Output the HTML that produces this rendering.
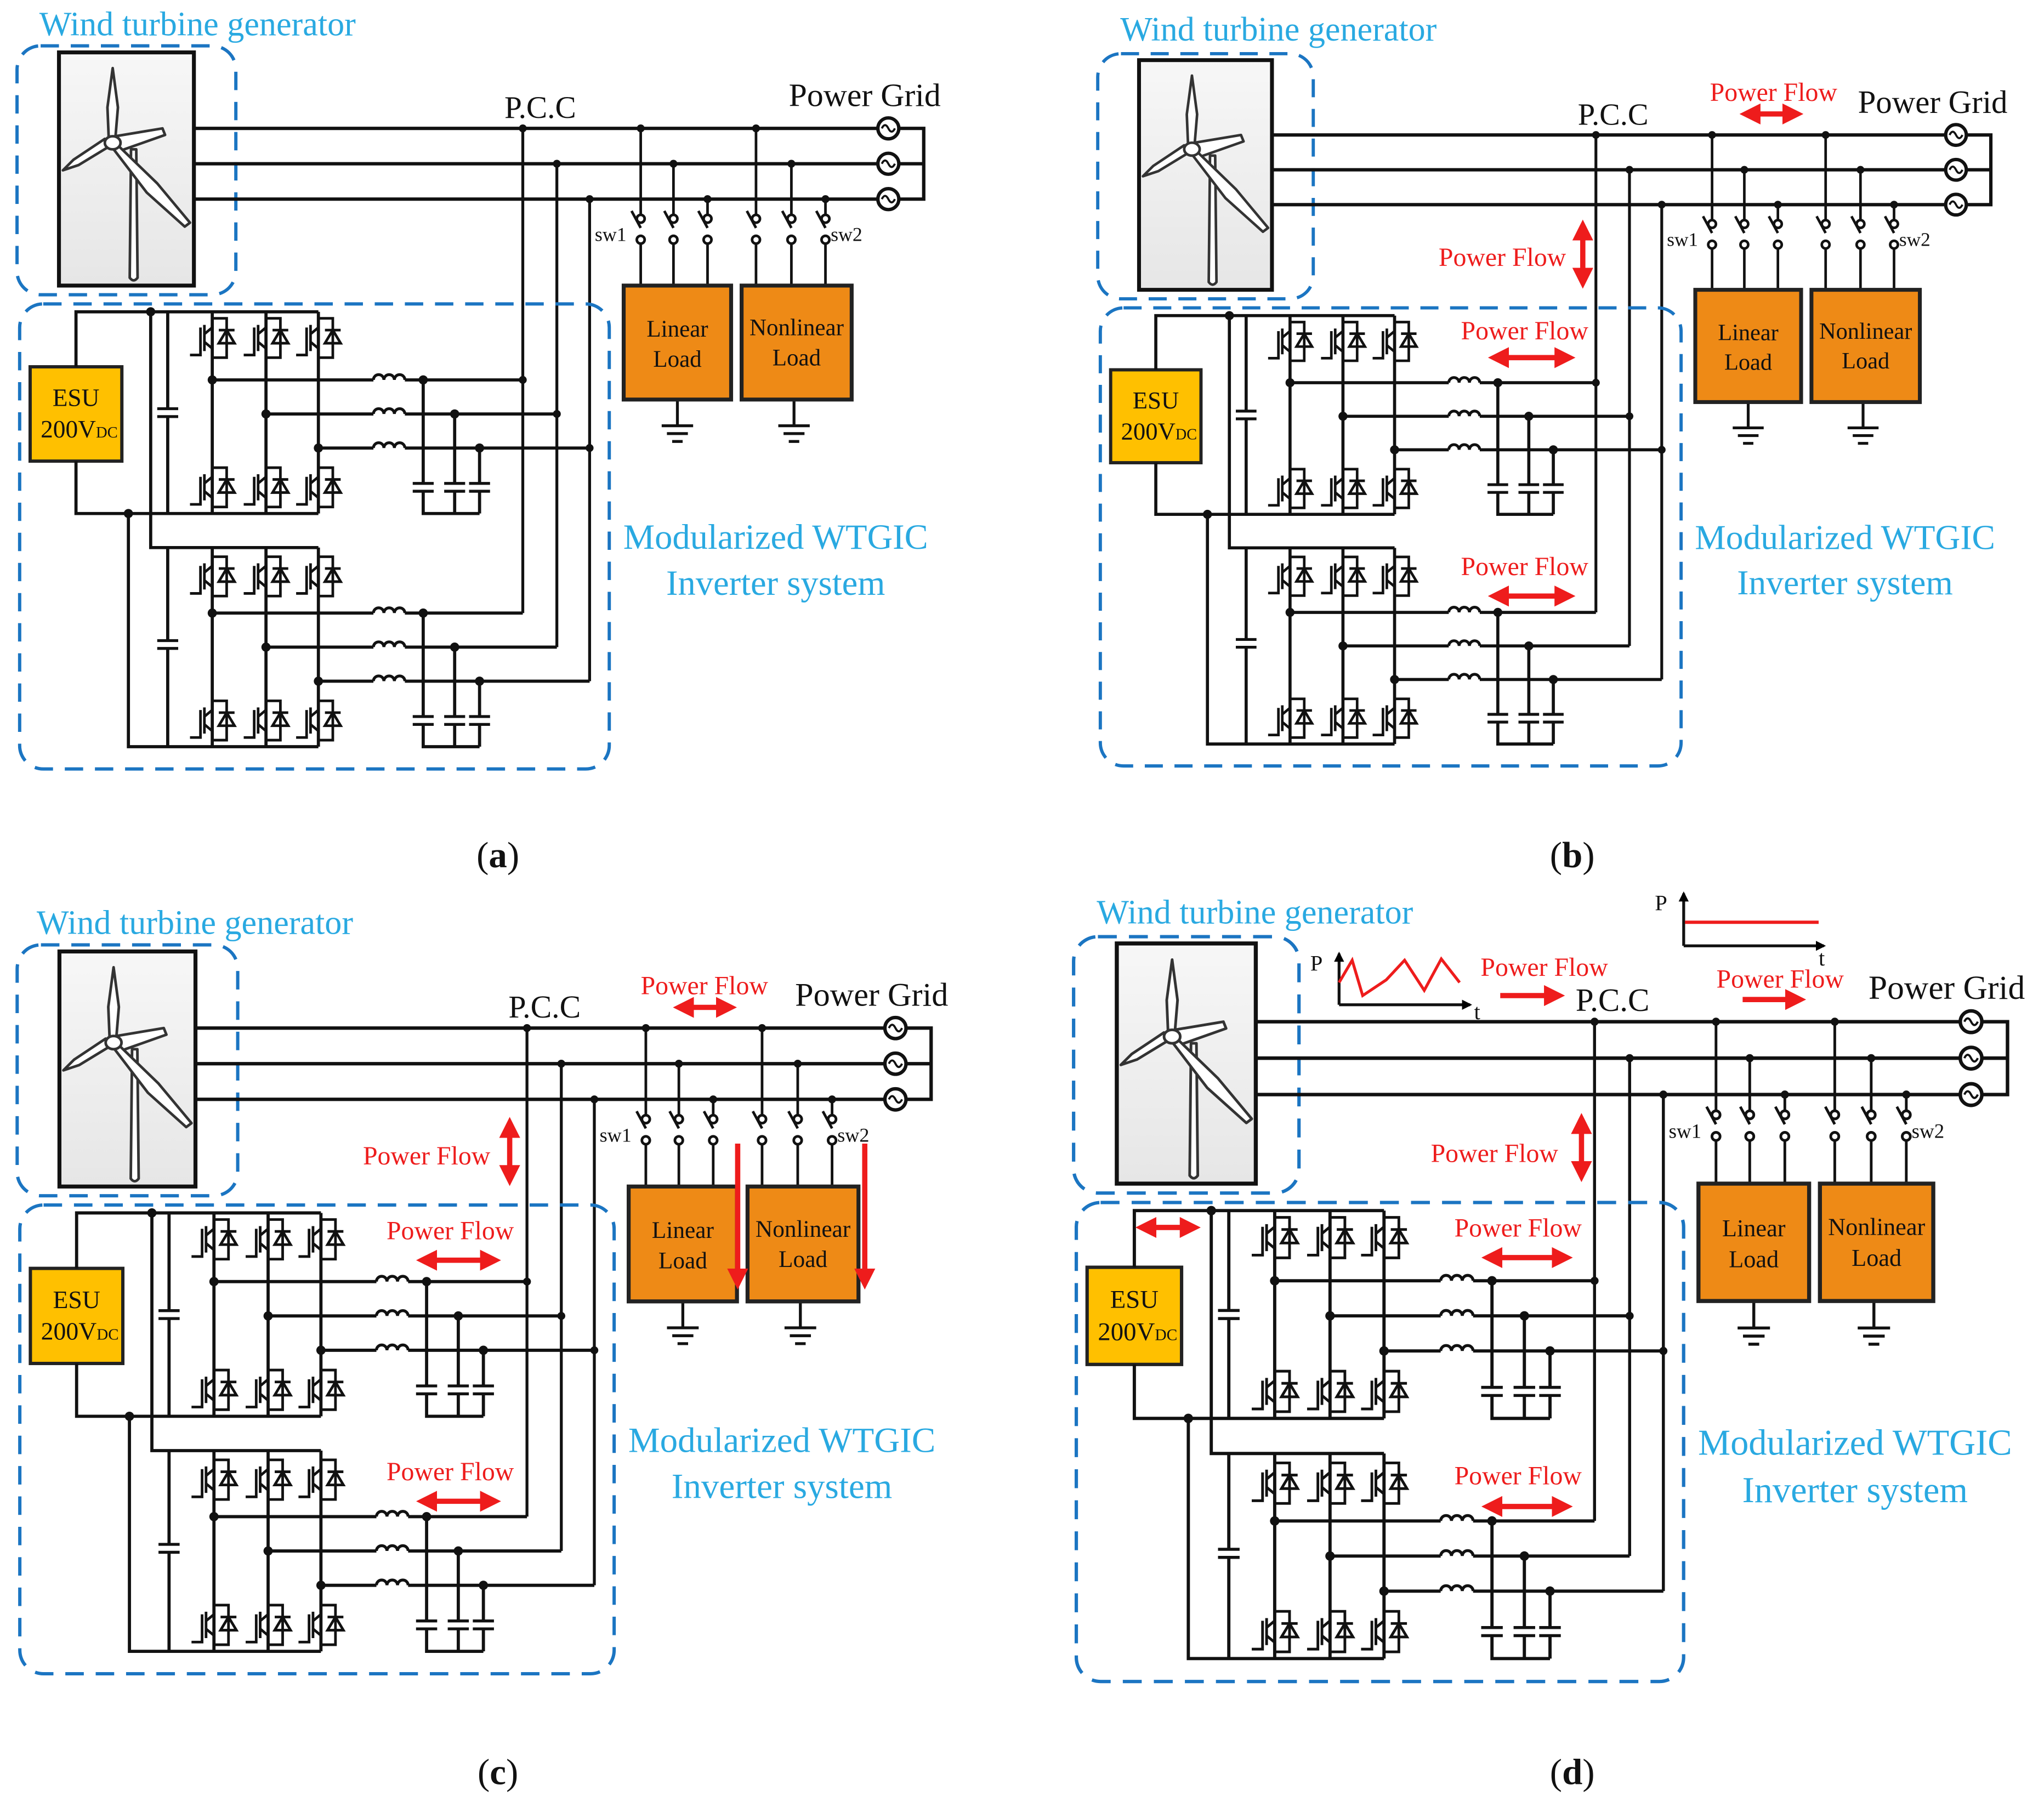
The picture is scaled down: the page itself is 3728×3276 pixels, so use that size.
<!DOCTYPE html>
<html><head><meta charset="utf-8"><style>
html,body{margin:0;padding:0;background:#fff;}
svg{display:block;}
svg, svg text{font-family:"Liberation Serif","Times New Roman",serif !important;}
</style></head><body>
<svg width="3728" height="3276" viewBox="0 0 1560 1371" preserveAspectRatio="none" xmlns="http://www.w3.org/2000/svg" font-family="'Liberation Serif', serif">
<defs>
<linearGradient id="tg" x1="0" y1="0" x2="0" y2="1"><stop offset="0" stop-color="#f7f7f7"/><stop offset="1" stop-color="#e6e6e6"/></linearGradient>
<marker id="ah" viewBox="0 0 10 10" refX="6" refY="5" markerWidth="4" markerHeight="4" orient="auto-start-reverse"><path d="M0,0 L10,5 L0,10 z" fill="#ee1c1c"/></marker>
<marker id="bh" viewBox="0 0 10 10" refX="8" refY="5" markerWidth="3.5" markerHeight="3.5" orient="auto"><path d="M0,0 L10,5 L0,10 z" fill="#000"/></marker>
<g id="cell" fill="none" stroke="#111" stroke-width="2">
  <path d="M0,-15 H11 V15 H0"/>
  <path d="M5,4 H17 L11,-6 Z M5,-6 H17"/>
  <path d="M-6,-10 V10 M-9,-8 V13 H-17 M-6,-3 L0,-8 M-6,3 L0,8"/>
</g>
<g id="ind" fill="none" stroke="#111" stroke-width="2.2"><path d="M0,0 a4,4 0 0 1 8,0 a4,4 0 0 1 8,0 a4,4 0 0 1 8,0"/></g>
<g id="cap" stroke="#111" stroke-width="2.2"><path d="M-8,-3 H8 M-8,3 H8"/></g>
<g id="panel" font-family="'Liberation Serif', serif">
  <rect x="13" y="35" width="167" height="190" rx="18" fill="none" stroke="#1b75c2" stroke-width="2.5" stroke-dasharray="14 9"/>
  <rect x="45" y="40" width="103" height="178" fill="url(#tg)" stroke="#111" stroke-width="3"/>
  <g fill="#fff" stroke="#333" stroke-width="2" stroke-linejoin="round">
    <path d="M100,114 L104,114 L105,212 Q102,216 99,212 Z"/>
    <path d="M88,104 L124,98 L126,103 L92,115 Z"/>
    <path d="M83,106 L82,82 L86,52 L90,82 L88,106 Z"/>
    <path d="M89,110 L120,140 L145,170 L141,173 L112,147 L86,113 Z"/>
    <path d="M83,112 L60,126 L48,130 L56,122 L80,106 Z"/>
    <ellipse cx="86" cy="109" rx="6" ry="5"/>
  </g>
  <g stroke="#111" stroke-width="2.6" fill="none">
    <path d="M148,98 H670 M148,125 H670 M148,152 H670 M686,98 H705 V152 H686 M686,125 H705"/>
    <circle cx="678" cy="98" r="8"/><circle cx="678" cy="125" r="8"/><circle cx="678" cy="152" r="8"/>
    <path d="M673,98 q2.5,-5 5,0 t5,0 M673,125 q2.5,-5 5,0 t5,0 M673,152 q2.5,-5 5,0 t5,0" stroke-width="1.6"/>
    <path d="M399,98 V468 M425,125 V494 M450,152 V520" stroke-width="2.2"/>
    <g stroke-width="2">
      <path d="M489,98 V164 M489,186 V218 M514,125 V164 M514,186 V218 M540,152 V164 M540,186 V218"/>
      <path d="M577,98 V164 M577,186 V218 M604,125 V164 M604,186 V218 M630,152 V164 M630,186 V218"/>
      <circle cx="489" cy="167" r="3"/><circle cx="489" cy="183" r="3"/><path d="M489,174 L482,161"/>
      <circle cx="514" cy="167" r="3"/><circle cx="514" cy="183" r="3"/><path d="M514,174 L507,161"/>
      <circle cx="540" cy="167" r="3"/><circle cx="540" cy="183" r="3"/><path d="M540,174 L533,161"/>
      <circle cx="577" cy="167" r="3"/><circle cx="577" cy="183" r="3"/><path d="M577,174 L570,161"/>
      <circle cx="604" cy="167" r="3"/><circle cx="604" cy="183" r="3"/><path d="M604,174 L597,161"/>
      <circle cx="630" cy="167" r="3"/><circle cx="630" cy="183" r="3"/><path d="M630,174 L623,161"/>
    </g>
    <path d="M517,305 V325 M505,325 H529 M509,331 H525 M513,337 H521 M606,305 V325 M594,325 H618 M598,331 H614 M602,337 H610" stroke-width="2.2"/>
  </g>
  <g fill="#111">
    <circle cx="399" cy="98" r="3"/><circle cx="425" cy="125" r="3"/><circle cx="450" cy="152" r="3"/>
    <circle cx="489" cy="98" r="3"/><circle cx="514" cy="125" r="3"/><circle cx="540" cy="152" r="3"/>
    <circle cx="577" cy="98" r="3"/><circle cx="604" cy="125" r="3"/><circle cx="630" cy="152" r="3"/>
  </g>
  <rect x="476" y="218" width="82" height="87" fill="#ee8a16" stroke="#222" stroke-width="3"/>
  <rect x="566" y="218" width="84" height="87" fill="#ee8a16" stroke="#222" stroke-width="3"/>
  <g font-size="18" fill="#111" text-anchor="middle">
    <text x="517" y="257">Linear</text><text x="517" y="280">Load</text>
    <text x="608" y="256">Nonlinear</text><text x="608" y="279">Load</text>
  </g>
  <text x="385" y="90" font-size="24" fill="#111">P.C.C</text>
  <text x="602" y="81" font-size="25" fill="#111">Power Grid</text>
  <text x="454" y="184" font-size="15" fill="#111">sw1</text>
  <text x="634" y="184" font-size="15" fill="#111">sw2</text>
  <rect x="15" y="232" width="450" height="355" rx="18" fill="none" stroke="#1b75c2" stroke-width="2.5" stroke-dasharray="14 9"/>
  <rect x="23" y="280" width="70" height="72" fill="#ffc000" stroke="#222" stroke-width="2.5"/>
  <text x="58" y="310" font-size="19" text-anchor="middle" fill="#111">ESU</text>
  <text x="31" y="334" font-size="19" fill="#111">200V<tspan font-size="12">DC</tspan></text>
  <g stroke="#111" stroke-width="2.4" fill="none">
    <path d="M58,280 V238 H243 M58,352 V392 H243 M115,238 V418 H243 M98,392 V570 H243"/>
    <path d="M128,238 V312 M128,318 V392 M128,418 V489 M128,495 V570"/>
    <path d="M162,238 V392 M203,238 V392 M243,238 V392 M162,418 V570 M203,418 V570 M243,418 V570"/>
    <path d="M162,290 H285 M309,290 H399 M203,316 H285 M309,316 H425 M243,342 H285 M309,342 H450"/>
    <path d="M323,290 V369 M347,316 V369 M366,342 V369 M323,375 V392 H366 M347,375 V392 M366,375 V392"/>
    <path d="M162,468 H285 M309,468 H399 M203,494 H285 M309,494 H425 M243,520 H285 M309,520 H450"/>
    <path d="M323,468 V547 M347,494 V547 M366,520 V547 M323,553 V570 H366 M347,553 V570 M366,553 V570"/>
  </g>
  <use href="#cap" x="128" y="315"/><use href="#cap" x="128" y="492"/>
  <use href="#cap" x="323" y="372"/><use href="#cap" x="347" y="372"/><use href="#cap" x="366" y="372"/>
  <use href="#cap" x="323" y="550"/><use href="#cap" x="347" y="550"/><use href="#cap" x="366" y="550"/>
  <use href="#ind" x="285" y="290"/><use href="#ind" x="285" y="316"/><use href="#ind" x="285" y="342"/>
  <use href="#ind" x="285" y="468"/><use href="#ind" x="285" y="494"/><use href="#ind" x="285" y="520"/>
  <use href="#cell" x="162" y="258"/><use href="#cell" x="203" y="258"/><use href="#cell" x="243" y="258"/>
  <use href="#cell" x="162" y="372"/><use href="#cell" x="203" y="372"/><use href="#cell" x="243" y="372"/>
  <use href="#cell" x="162" y="440"/><use href="#cell" x="203" y="440"/><use href="#cell" x="243" y="440"/>
  <use href="#cell" x="162" y="550"/><use href="#cell" x="203" y="550"/><use href="#cell" x="243" y="550"/>
  <g fill="#111">
    <circle cx="115" cy="238" r="3.5"/><circle cx="98" cy="392" r="3.5"/>
    <circle cx="162" cy="290" r="3.5"/><circle cx="203" cy="316" r="3.5"/><circle cx="243" cy="342" r="3.5"/>
    <circle cx="323" cy="290" r="3.5"/><circle cx="347" cy="316" r="3.5"/><circle cx="366" cy="342" r="3.5"/>
    <circle cx="399" cy="290" r="3"/><circle cx="425" cy="316" r="3"/><circle cx="450" cy="342" r="3"/>
    <circle cx="162" cy="468" r="3.5"/><circle cx="203" cy="494" r="3.5"/><circle cx="243" cy="520" r="3.5"/>
    <circle cx="323" cy="468" r="3.5"/><circle cx="347" cy="494" r="3.5"/><circle cx="366" cy="520" r="3.5"/>
  </g>
  <g fill="#29a9e1" font-size="27" text-anchor="middle">
    <text x="592" y="419">Modularized WTGIC</text>
    <text x="592" y="454">Inverter system</text>
  </g>
</g>
</defs>

<use href="#panel"/>
<use href="#panel" transform="translate(825,6.5) scale(0.985)"/>
<use href="#panel" transform="translate(0,686) scale(1.008)"/>
<use href="#panel" transform="translate(806,679) scale(1.03)"/>

<g fill="#29a9e1" font-size="26">
  <text x="30" y="27">Wind turbine generator</text>
  <text x="855" y="31">Wind turbine generator</text>
  <text x="28" y="713">Wind turbine generator</text>
  <text x="837" y="705">Wind turbine generator</text>
</g>
<g font-size="28" fill="#111" text-anchor="middle">
  <text x="380" y="662">(<tspan font-weight="bold">a</tspan>)</text>
  <text x="1200" y="662">(<tspan font-weight="bold">b</tspan>)</text>
  <text x="380" y="1362">(<tspan font-weight="bold">c</tspan>)</text>
  <text x="1200" y="1362">(<tspan font-weight="bold">d</tspan>)</text>
</g>

<g fill="#ee1c1c" font-size="20">
  <text x="1305" y="77">Power Flow</text>
  <text x="1098" y="203">Power Flow</text>
  <text x="1115" y="259">Power Flow</text>
  <text x="1115" y="439">Power Flow</text>
  <text x="489" y="759">Power Flow</text>
  <text x="277" y="889">Power Flow</text>
  <text x="295" y="946">Power Flow</text>
  <text x="295" y="1130">Power Flow</text>
  <text x="1130" y="745">Power Flow</text>
  <text x="1310" y="754">Power Flow</text>
  <text x="1092" y="887">Power Flow</text>
  <text x="1110" y="944">Power Flow</text>
  <text x="1110" y="1133">Power Flow</text>
</g>
<g stroke="#ee1c1c" stroke-width="4" fill="none">
  <path d="M1334,87 H1370" marker-start="url(#ah)" marker-end="url(#ah)"/>
  <path d="M1208,174 V214" marker-start="url(#ah)" marker-end="url(#ah)"/>
  <path d="M1142,273 H1196" marker-start="url(#ah)" marker-end="url(#ah)"/>
  <path d="M1142,455 H1196" marker-start="url(#ah)" marker-end="url(#ah)"/>
  <path d="M520,769 H556" marker-start="url(#ah)" marker-end="url(#ah)"/>
  <path d="M389,859 V899" marker-start="url(#ah)" marker-end="url(#ah)"/>
  <path d="M324,962 H376" marker-start="url(#ah)" marker-end="url(#ah)"/>
  <path d="M324,1146 H376" marker-start="url(#ah)" marker-end="url(#ah)"/>
  <path d="M563,873 V978" marker-end="url(#ah)"/>
  <path d="M660,873 V978" marker-end="url(#ah)"/>
  <path d="M1145,760 H1188" marker-end="url(#ah)"/>
  <path d="M1330,763 H1372" marker-end="url(#ah)"/>
  <path d="M1207,856 V896" marker-start="url(#ah)" marker-end="url(#ah)"/>
  <path d="M1137,960 H1194" marker-start="url(#ah)" marker-end="url(#ah)"/>
  <path d="M1137,1150 H1194" marker-start="url(#ah)" marker-end="url(#ah)"/>
  <path d="M873,937 H910" marker-start="url(#ah)" marker-end="url(#ah)"/>
</g>
<g stroke="#111" stroke-width="2.2" fill="none">
  <path d="M1022,767 V728" marker-end="url(#bh)"/>
  <path d="M1022,767 H1122" marker-end="url(#bh)"/>
  <path d="M1285,722 V682" marker-end="url(#bh)"/>
  <path d="M1285,722 H1392" marker-end="url(#bh)"/>
</g>
<path d="M1022,750 L1032,733 L1040,760 L1058,748 L1072,733 L1087,756 L1100,732 L1114,750" stroke="#ee1c1c" stroke-width="2.2" fill="none"/>
<path d="M1286,704 H1388" stroke="#ee1c1c" stroke-width="2.5"/>
<g font-size="17" fill="#111"><text x="1000" y="741">P</text><text x="1125" y="778">t</text><text x="1263" y="695">P</text><text x="1388" y="737">t</text></g>
</svg>
</body></html>
